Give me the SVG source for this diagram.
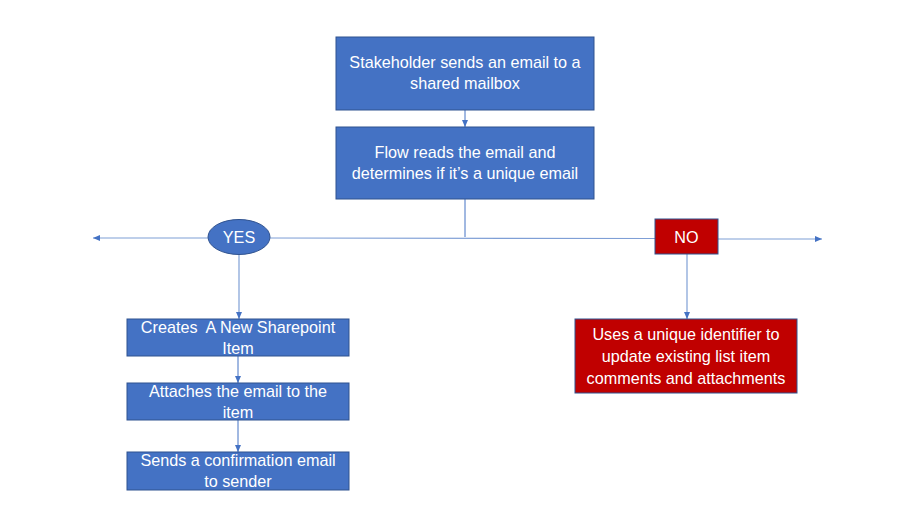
<svg xmlns="http://www.w3.org/2000/svg" width="910" height="521" viewBox="0 0 910 521">
<style>
.b{fill:#4472C4;stroke:#2F528F;stroke-width:1}
.r{fill:#C00000;stroke:#2F528F;stroke-width:1}
.t{font-family:"Liberation Sans",Arial,sans-serif;font-size:16.2px;fill:#fff;text-anchor:middle}
.c{stroke:#4472C4;stroke-width:1;fill:none}
.h{stroke:#7F9FD6;stroke-width:1.2;fill:none}
</style>
<defs>
<marker id="a" markerWidth="8" markerHeight="8" refX="7" refY="4" orient="auto" markerUnits="userSpaceOnUse">
<path d="M0,1 L7,4 L0,7 Z" fill="#4472C4"/>
</marker>
</defs>
<rect width="910" height="521" fill="#fff"/>
<g id="connectors">
<line class="c" x1="465" y1="110" x2="465" y2="127" marker-end="url(#a)"/>
<line class="c" x1="465" y1="199" x2="465" y2="237"/>
<line class="h" x1="208" y1="238" x2="93" y2="238" marker-end="url(#a)"/>
<line class="h" x1="270" y1="238" x2="655" y2="238.5"/>
<line class="h" x1="718" y1="239" x2="822" y2="239" marker-end="url(#a)"/>
<line class="h" x1="239" y1="255" x2="239" y2="319" marker-end="url(#a)"/>
<line class="c" x1="238" y1="356" x2="238" y2="383" marker-end="url(#a)"/>
<line class="c" x1="238" y1="420" x2="238" y2="452" marker-end="url(#a)"/>
<line class="h" x1="687" y1="254" x2="687" y2="319" marker-end="url(#a)"/>
</g>
<g id="n1"><rect class="b" x="336" y="37" width="258" height="73"/>
<text class="t" x="465" y="68">Stakeholder sends an email to a</text>
<text class="t" x="465" y="89">shared mailbox</text></g>
<g id="n2"><rect class="b" x="336" y="127" width="258" height="72"/>
<text class="t" x="465" y="158">Flow reads the email and</text>
<text class="t" x="465" y="179">determines if it’s a unique email</text></g>
<g id="yes"><ellipse class="b" cx="239" cy="237" rx="31" ry="17.5"/>
<text class="t" x="239" y="243">YES</text></g>
<g id="no"><rect class="r" x="655" y="219" width="63" height="35"/>
<text class="t" x="686.5" y="243">NO</text></g>
<g id="n3"><rect class="b" x="127" y="319" width="222" height="37"/>
<text class="t" x="238" y="333" xml:space="preserve" style="white-space:pre">Creates  A New Sharepoint</text>
<text class="t" x="238" y="354">Item</text></g>
<g id="n4"><rect class="b" x="127" y="383" width="222" height="37"/>
<text class="t" x="238" y="397">Attaches the email to the</text>
<text class="t" x="238" y="418">item</text></g>
<g id="n5"><rect class="b" x="127" y="452" width="222" height="38"/>
<text class="t" x="238" y="466">Sends a confirmation email</text>
<text class="t" x="238" y="487">to sender</text></g>
<g id="n6"><rect class="r" x="575" y="319" width="222" height="74"/>
<text class="t" x="686" y="340">Uses a unique identifier to</text>
<text class="t" x="686" y="362">update existing list item</text>
<text class="t" x="686" y="384">comments and attachments</text></g>
</svg>
